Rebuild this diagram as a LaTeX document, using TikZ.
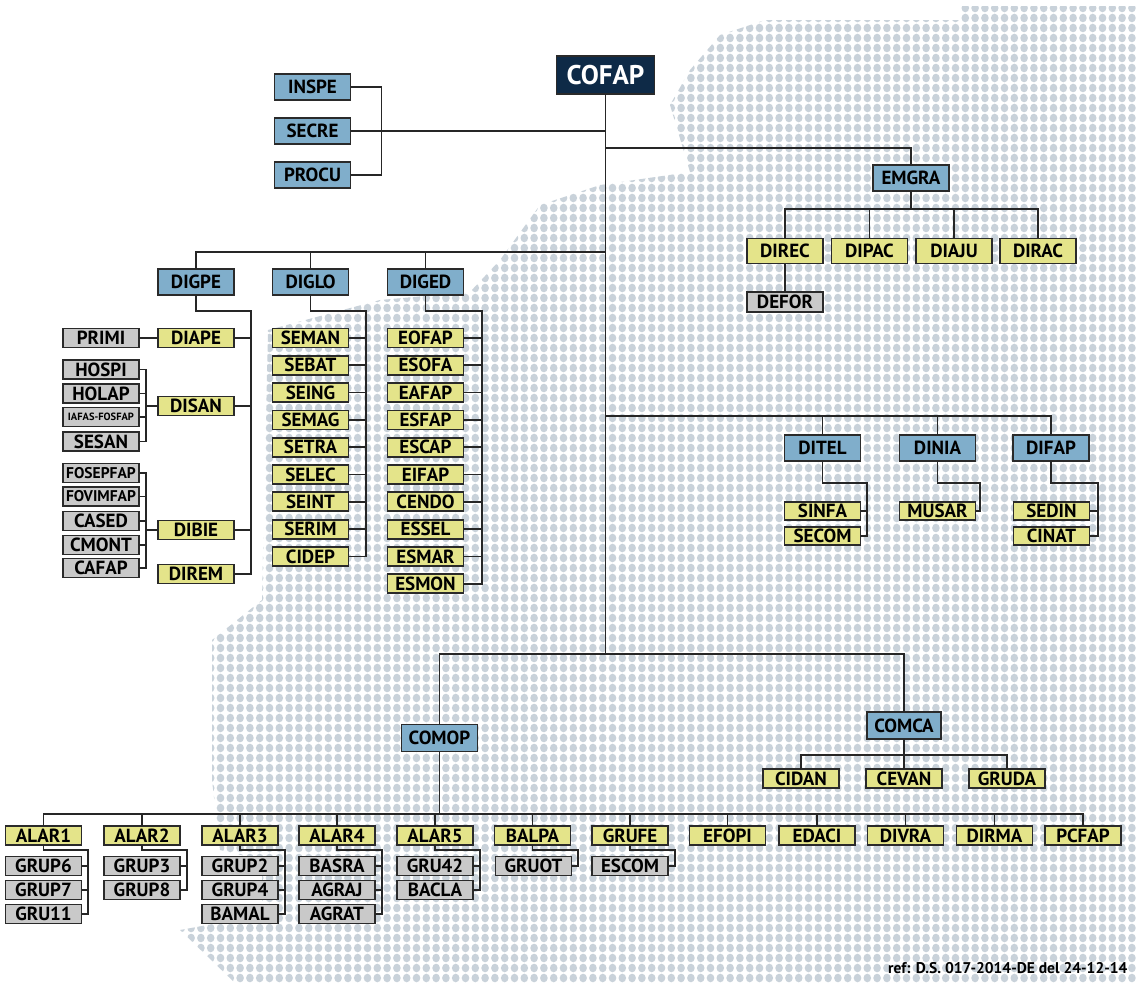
\documentclass[tikz,border=0pt]{standalone}
\usepackage{fontspec}
\setmainfont{PT Sans}
\usetikzlibrary{patterns}
\definecolor{bluef}{HTML}{80AECB}
\definecolor{yelf}{HTML}{E4E48A}
\definecolor{grayf}{HTML}{C9C9C9}
\definecolor{navyf}{HTML}{0E2A47}
\definecolor{bord}{HTML}{2A2A2A}
\definecolor{linec}{HTML}{262626}
\definecolor{dotc}{HTML}{C9D2DA}
\pgfdeclarepatternformonly{mapdots}{\pgfqpoint{-1pt}{-1pt}}{\pgfqpoint{11pt}{11pt}}{\pgfqpoint{9.8pt}{10pt}}{%
  \pgfpathellipse{\pgfqpoint{4.9pt}{5pt}}{\pgfqpoint{3.8pt}{0pt}}{\pgfqpoint{0pt}{4.3pt}}\pgfusepath{fill}}
\newcommand\kidsbr[4]{%
  \coordinate (kb) at (#2,#3);
  \draw[conn] (#1.south) |- (kb);
  \foreach \c in {#4}{\draw[conn] (\c.east) -| (kb);}
}
\begin{document}
\begin{tikzpicture}[x=1pt,y=-1pt,
  box/.style={draw=bord, line width=1.8pt, minimum width=76pt, inner sep=0pt,
    font=\bfseries\fontsize{19}{19}\selectfont, text=black},
  bl/.style={box, fill=bluef, minimum height=26pt},
  yl/.style={box, fill=yelf, minimum height=19pt},
  yb/.style={box, fill=yelf, minimum height=25pt},
  gr/.style={box, fill=grayf, minimum height=19pt},
  topbox/.style={draw=bord, line width=1.5pt, fill=navyf, text=white, minimum width=98pt,
    minimum height=38pt, inner sep=0pt, font=\bfseries\fontsize{27}{27}\selectfont},
  conn/.style={draw=linec, line width=1.7pt, line cap=rect}]
\useasboundingbox (0,0) rectangle (1137,983);
\fill[white] (0,0) rectangle (1137,983);
\fill[pattern=mapdots, pattern color=dotc]
  (960,6) -- (1137,6) -- (1137,983) -- (235,983) -- (180,930) -- (262,915) -- (262,860)
  -- (220,850) -- (212,780) -- (212,640) -- (262,600) -- (268,330) -- (380,300) -- (470,292)
  -- (500,260) -- (540,205) -- (600,185) -- (690,172) -- (670,105) -- (690,70) -- (720,35)
  -- (765,20) -- (960,20) -- cycle;

% top
\node[topbox] (COFAP) at (605.5,75) {COFAP};
\node[bl] (INSPE) at (312.5,87) {INSPE};
\node[bl] (SECRE) at (312.5,131) {SECRE};
\node[bl] (PROCU) at (312.5,175) {PROCU};

% EMGRA
\node[bl] (EMGRA) at (911,178) {EMGRA};
\node[yb] (DIREC) at (785,251) {DIREC};
\node[yb] (DIPAC) at (869.5,251) {DIPAC};
\node[yb] (DIAJU) at (954,251) {DIAJU};
\node[yb] (DIRAC) at (1038,251) {DIRAC};
\node[gr, minimum height=20pt] (DEFOR) at (785,302) {DEFOR};

% DIG
\node[bl] (DIGPE) at (196,282) {DIGPE};
\node[bl] (DIGLO) at (310.5,282) {DIGLO};
\node[bl] (DIGED) at (425.5,282) {DIGED};
\node[yl] (DIAPE) at (196,338) {DIAPE};
\node[yl] (DISAN) at (196,406) {DISAN};
\node[yl] (DIBIE) at (196,530) {DIBIE};
\node[yl] (DIREM) at (196,574) {DIREM};
\node[gr] (PRIMI) at (101,338) {PRIMI};
\node[gr] (HOSPI) at (101,369.5) {HOSPI};
\node[gr] (HOLAP) at (101,393.5) {HOLAP};
\node[gr, font=\bfseries\fontsize{10.5}{11}\selectfont] (iafas) at (101,417) {IAFAS-FOSFAP};
\node[gr] (SESAN) at (101,441.5) {SESAN};
\node[gr, font=\bfseries\fontsize{15.5}{16}\selectfont] (FOSEP) at (101,473) {FOSEPFAP};
\node[gr, font=\bfseries\fontsize{15.5}{16}\selectfont] (FOVIM) at (101,496.5) {FOVIMFAP};
\node[gr] (CASED) at (101,521) {CASED};
\node[gr] (CMONT) at (101,545) {CMONT};
\node[gr] (CAFAP) at (101,568) {CAFAP};

\foreach \n [count=\i from 0] in {SEMAN,SEBAT,SEING,SEMAG,SETRA,SELEC,SEINT,SERIM,CIDEP}
  \node[yl] (\n) at (310.5,338+27.3*\i) {\n};
\foreach \n [count=\i from 0] in {EOFAP,ESOFA,EAFAP,ESFAP,ESCAP,EIFAP,CENDO,ESSEL,ESMAR,ESMON}
  \node[yl] (\n) at (425.5,338+27.3*\i) {\n};

% DITEL group
\node[bl] (DITEL) at (822.5,448) {DITEL};
\node[bl] (DINIA) at (937.5,448) {DINIA};
\node[bl] (DIFAP) at (1051,448) {DIFAP};
\node[yl, minimum height=18pt] (SINFA) at (822.5,511) {SINFA};
\node[yl, minimum height=18pt] (SECOM) at (822.5,536) {SECOM};
\node[yl, minimum height=18pt] (MUSAR) at (937.5,511) {MUSAR};
\node[yl, minimum height=18pt] (SEDIN) at (1051.5,511) {SEDIN};
\node[yl, minimum height=18pt] (CINAT) at (1051.5,536) {CINAT};

% COMOP / COMCA
\node[bl, minimum height=27pt] (COMOP) at (439.5,738) {COMOP};
\node[bl, minimum height=27pt, minimum width=74pt] (COMCA) at (904,725.5) {COMCA};
\node[yl] (CIDAN) at (801,778.5) {CIDAN};
\node[yl] (CEVAN) at (904,778.5) {CEVAN};
\node[yl] (GRUDA) at (1007,778.5) {GRUDA};

% bottom row
\foreach \n/\x in {ALAR1/43.5,ALAR2/142,ALAR3/240,ALAR4/337,ALAR5/435,BALPA/532.5,GRUFE/630,EFOPI/727.5,EDACI/817,DIVRA/905.5,DIRMA/994.5,PCFAP/1083}
  \node[yl] (\n) at (\x,835.5) {\n};
\foreach \n/\x/\y in {GRUP6/43.5/866,GRUP7/43.5/890,GRU11/43.5/914,
  GRUP3/142/866,GRUP8/142/890,
  GRUP2/240/866,GRUP4/240/890,BAMAL/240/914,
  BASRA/337/866,AGRAJ/337/890,AGRAT/337/914,
  GRU42/435/866,BACLA/435/890,
  GRUOT/533.5/866,ESCOM/630/866}
  \node[gr] (\n) at (\x,\y) {\n};

\node[anchor=east, font=\bfseries\fontsize{15.5}{16}\selectfont, text=black] (ref) at (1131,968) {ref: D.S. 017-2014-DE del 24-12-14};

% ---------------- connectors
\coordinate (b0) at (605.5,654);
\draw[conn] (COFAP.south) -- (b0);
\path (SECRE.east) ++(30,0) coordinate (ins);
\draw[conn] (INSPE.east) -| (ins);
\draw[conn] (PROCU.east) -| (ins);
\draw[conn] (SECRE.east) -- (SECRE.east -| COFAP.south);

\coordinate (e0) at (605.5,148);
\draw[conn] (e0) -| (EMGRA.north);
\coordinate (e1) at (911,209);
\draw[conn] (EMGRA.south) -- (e1);
\draw[conn] (DIREC.north) |- (e1) -| (DIRAC.north);
\draw[conn] (DIPAC.north) -- (DIPAC.north |- e1);
\draw[conn] (DIAJU.north) -- (DIAJU.north |- e1);
\draw[conn] (DIREC.south) -- (DEFOR.north);

\coordinate (d1) at (605.5,252);
\draw[conn] (DIGPE.north) |- (d1);
\draw[conn] (DIGLO.north) -- (DIGLO.north |- d1);
\draw[conn] (DIGED.north) -- (DIGED.north |- d1);
\kidsbr{DIGPE}{251}{311}{DIAPE,DISAN,DIBIE,DIREM}
\kidsbr{DIGLO}{366}{311}{SEMAN,SEBAT,SEING,SEMAG,SETRA,SELEC,SEINT,SERIM,CIDEP}
\kidsbr{DIGED}{482}{311}{EOFAP,ESOFA,EAFAP,ESFAP,ESCAP,EIFAP,CENDO,ESSEL,ESMAR,ESMON}
\draw[conn] (PRIMI.east) -- (DIAPE.west);
\path (DISAN.west) ++(-11,0) coordinate (ks1);
\draw[conn] (ks1) -- (DISAN.west);
\foreach \c in {HOSPI,HOLAP,iafas,SESAN} \draw[conn] (\c.east) -| (ks1);
\path (DIBIE.west) ++(-11,0) coordinate (ks2);
\draw[conn] (ks2) -- (DIBIE.west);
\foreach \c in {FOSEP,FOVIM,CASED,CMONT,CAFAP} \draw[conn] (\c.east) -| (ks2);

\coordinate (t1) at (605.5,416);
\draw[conn] (t1) -| (DIFAP.north);
\draw[conn] (DITEL.north) -- (DITEL.north |- t1);
\draw[conn] (DINIA.north) -- (DINIA.north |- t1);
\kidsbr{DITEL}{867}{483}{SINFA,SECOM}
\kidsbr{DINIA}{980}{483}{MUSAR}
\kidsbr{DIFAP}{1098}{483}{SEDIN,CINAT}

\draw[conn] (COMOP.north) |- (b0) -| (COMCA.north);
\coordinate (c1) at (904,755);
\draw[conn] (CIDAN.north) |- (c1) -| (GRUDA.north);
\draw[conn] (COMCA.south) -- (CEVAN.north);

\coordinate (b1) at (439.5,814);
\draw[conn] (COMOP.south) -- (b1);
\draw[conn] (ALAR1.north) |- (b1) -| (PCFAP.north);
\foreach \n in {ALAR2,ALAR3,ALAR4,ALAR5,BALPA,GRUFE,EFOPI,EDACI,DIVRA,DIRMA}
  \draw[conn] (\n.north) -- (\n.north |- b1);
\kidsbr{ALAR1}{88}{850}{GRUP6,GRUP7,GRU11}
\kidsbr{ALAR2}{187}{850}{GRUP3,GRUP8}
\kidsbr{ALAR3}{285}{850}{GRUP2,GRUP4,BAMAL}
\kidsbr{ALAR4}{382}{850}{BASRA,AGRAJ,AGRAT}
\kidsbr{ALAR5}{480}{850}{GRU42,BACLA}
\kidsbr{BALPA}{578}{850}{GRUOT}
\kidsbr{GRUFE}{675}{850}{ESCOM}
\end{tikzpicture}
\end{document}
